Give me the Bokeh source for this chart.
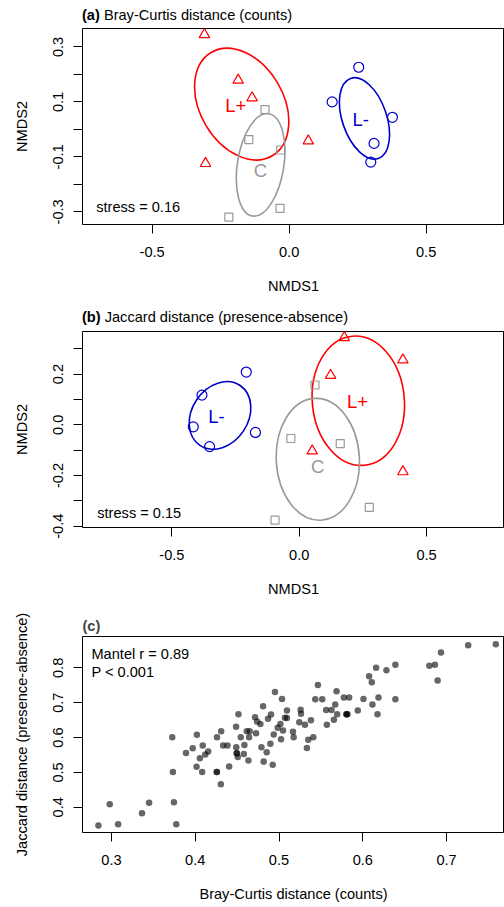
import math
from bokeh.plotting import figure
from bokeh.layouts import column
from bokeh.models import Label, FixedTicker, CustomJSTickFormatter, Range1d, Div
from bokeh.core.properties import value
from bokeh.embed import file_html
from bokeh.resources import INLINE

FONT = "Liberation Sans"
FS = "14.6px"
GFS = "18.5px"
RED = "#FF0000"
BLUE = "#0000CD"
GRAY = "#999999"
W = 504

# ---------------- Panel (a): NMDS on Bray-Curtis ----------------
a_tag, a_title = "(a)", "Bray-Curtis distance (counts)"
a_lplus_x = [-0.309, -0.186, -0.135, 0.070, -0.305]
a_lplus_y = [0.345, 0.179, 0.115, -0.042, -0.124]
a_lminus_x = [0.254, 0.157, 0.377, 0.310, 0.298]
a_lminus_y = [0.226, 0.100, 0.044, -0.051, -0.119]
a_c_x = [-0.088, -0.147, -0.031, -0.033, -0.220]
a_c_y = [0.072, -0.037, -0.075, -0.287, -0.319]
# ellipses: L+, C, L-
a_ell_x = [-0.173, -0.104, 0.275]
a_ell_y = [0.092, -0.129, 0.040]
a_ell_w = [0.438, 0.378, 0.309]
a_ell_h = [0.303, 0.169, 0.161]
a_ell_angle_deg = [120.6, 81.0, 109.1]
a_lab_text = ["L+", "C", "L-"]
a_lab_x = [-0.195, -0.105, 0.261]
a_lab_y = [0.088, -0.151, 0.036]
a_stress = "stress = 0.16"

# ---------------- Panel (b): NMDS on Jaccard ----------------
b_tag, b_title = "(b)", "Jaccard distance (presence-absence)"
b_lplus_x = [0.177, 0.407, 0.123, 0.051, 0.407]
b_lplus_y = [0.344, 0.256, 0.195, -0.103, -0.185]
b_lminus_x = [-0.208, -0.382, -0.416, -0.172, -0.352]
b_lminus_y = [0.208, 0.117, -0.008, -0.030, -0.086]
b_c_x = [0.062, -0.033, 0.161, 0.275, -0.095]
b_c_y = [0.157, -0.054, -0.074, -0.326, -0.376]
b_ell_x = [0.232, 0.073, -0.311]
b_ell_y = [0.095, -0.136, 0.037]
b_ell_w = [0.509, 0.479, 0.283]
b_ell_h = [0.363, 0.328, 0.222]
b_ell_angle_deg = [95.4, 93.0, 56.1]
b_lab_text = ["L+", "C", "L-"]
b_lab_x = [0.229, 0.072, -0.325]
b_lab_y = [0.092, -0.163, 0.032]
b_stress = "stress = 0.15"

# ---------------- Panel (c): pairwise distances ----------------
c_tag = "(c)"
c_stats = ["Mantel r = 0.89", "P < 0.001"]
bray_curtis = [0.2845, 0.298, 0.308, 0.3365, 0.345, 0.3726, 0.3734, 0.3746, 0.3774, 0.389,
               0.397, 0.402, 0.4016, 0.4056, 0.409, 0.4083, 0.412, 0.4155, 0.426, 0.431,
               0.4258, 0.4258, 0.4306, 0.4333, 0.4385, 0.4405, 0.4488, 0.4516, 0.449, 0.4496,
               0.4496, 0.4508, 0.4544, 0.458, 0.4587, 0.4615, 0.4635, 0.4643, 0.465, 0.4714,
               0.4726, 0.4738, 0.4778, 0.479, 0.481, 0.4817, 0.4853, 0.4869, 0.4897, 0.4905,
               0.4925, 0.4937, 0.4952, 0.4984, 0.5016, 0.5024, 0.5036, 0.5048, 0.5071, 0.5095,
               0.5095, 0.5167, 0.5175, 0.5258, 0.5262, 0.5242, 0.5310, 0.5333, 0.5349, 0.5381,
               0.5409, 0.5464, 0.5433, 0.5516, 0.5563, 0.5571, 0.5627, 0.5655, 0.5671, 0.5687,
               0.5694, 0.5774, 0.5806, 0.5806, 0.5837, 0.5817, 0.5940, 0.6008, 0.6075, 0.6107,
               0.6115, 0.6159, 0.6187, 0.6175, 0.6282, 0.6389, 0.6389, 0.6794, 0.6861, 0.6893,
               0.6933, 0.7258, 0.7587]
jaccard = [0.348, 0.409, 0.351, 0.383, 0.413, 0.601, 0.501, 0.4145, 0.351, 0.556,
           0.5695, 0.608, 0.516, 0.541, 0.577, 0.501, 0.5515, 0.560, 0.601, 0.618,
           0.501, 0.501, 0.466, 0.577, 0.577, 0.517, 0.631, 0.667, 0.572, 0.555,
           0.555, 0.544, 0.601, 0.553, 0.579, 0.618, 0.534, 0.601, 0.618, 0.658,
           0.6125, 0.646, 0.639, 0.572, 0.690, 0.531, 0.558, 0.654, 0.582, 0.666,
           0.522, 0.609, 0.731, 0.628, 0.639, 0.595, 0.711, 0.620, 0.657, 0.656,
           0.678, 0.617, 0.601, 0.680, 0.668, 0.644, 0.637, 0.570, 0.594, 0.650,
           0.601, 0.751, 0.710, 0.710, 0.679, 0.637, 0.679, 0.651, 0.695, 0.733,
           0.667, 0.715, 0.667, 0.667, 0.715, 0.667, 0.678, 0.711, 0.776, 0.759,
           0.695, 0.800, 0.715, 0.667, 0.793, 0.809, 0.710, 0.806, 0.809, 0.764,
           0.844, 0.865, 0.868]

# tick definitions
a_xticks = [-0.5, 0.0, 0.5]
a_xlabels = ["-0.5", "0.0", "0.5"]
a_yticks = [-0.3, -0.2, -0.1, 0.0, 0.1, 0.2, 0.3]
a_ylabels = ["-0.3", "", "-0.1", "", "0.1", "", "0.3"]
b_xticks = [-0.5, 0.0, 0.5]
b_xlabels = ["-0.5", "0.0", "0.5"]
b_yticks = [-0.4, -0.3, -0.2, -0.1, 0.0, 0.1, 0.2, 0.3]
b_ylabels = ["-0.4", "", "-0.2", "", "0.0", "", "0.2", ""]
c_xticks = [0.3, 0.4, 0.5, 0.6, 0.7]
c_xlabels = ["0.3", "0.4", "0.5", "0.6", "0.7"]
c_yticks = [0.4, 0.5, 0.6, 0.7, 0.8]
c_ylabels = ["0.4", "0.5", "0.6", "0.7", "0.8"]


def fmt(tvals, tlabs):
    return CustomJSTickFormatter(args=dict(tvals=tvals, tlabs=tlabs), code="""
        for (let i = 0; i < tvals.length; i++) {
            if (Math.abs(tvals[i] - tick) < 1e-9) { return tlabs[i]; }
        }
        return "";
    """)


def title_div(h, line_h, tag, title, indent):
    html = "<b>%s</b> %s" % (tag, title)
    return Div(text=html, width=W, height=h, margin=0,
               styles={"font-family": "'Liberation Sans', Arial, sans-serif",
                       "font-size": FS, "line-height": "%gpx" % line_h,
                       "text-indent": "%dpx" % indent, "white-space": "nowrap",
                       "color": "black", "overflow": "visible"})


def make_fig(xr, yr, top, bottom, left, xticks, xlabels, yticks, ylabels, xlab, ylab):
    p = figure(width=W, height=top + 196 + bottom, x_range=Range1d(*xr), y_range=Range1d(*yr),
               output_backend="svg", toolbar_location=None,
               min_border_top=top, min_border_bottom=bottom, min_border_left=left,
               min_border_right=0, margin=0)
    p.title.text = ""
    p.xgrid.visible = False
    p.ygrid.visible = False
    p.outline_line_color = "black"
    p.outline_line_width = 1
    p.outline_line_alpha = 1
    for ax, ticks, labels, lab in ((p.xaxis[0], xticks, xlabels, xlab), (p.yaxis[0], yticks, ylabels, ylab)):
        ax.ticker = FixedTicker(ticks=ticks, minor_ticks=[])
        ax.formatter = fmt(ticks, labels)
        ax.axis_line_color = None
        ax.major_tick_in = 0
        ax.major_tick_out = 9
        ax.minor_tick_in = 0
        ax.minor_tick_out = 0
        ax.major_tick_line_color = "black"
        ax.major_label_text_font = FONT
        ax.major_label_text_font_size = FS
        ax.major_label_text_color = "black"
        ax.axis_label = lab
        ax.axis_label_text_font = FONT
        ax.axis_label_text_font_size = FS
        ax.axis_label_text_font_style = "normal"
        ax.axis_label_text_color = "black"
    p.xaxis[0].major_label_standoff = 13
    p.xaxis[0].axis_label_standoff = 18
    p.yaxis[0].major_label_orientation = "vertical"
    p.yaxis[0].major_label_standoff = 10
    p.yaxis[0].axis_label_standoff = 21
    return p


def add_text(p, x, y, text):
    p.add_layout(Label(x=x, y=y, text=text, text_font=FONT, text_font_size=FS,
                       text_color="black", text_align="left", text_baseline="middle"))


def nmds_panel(p, lp_x, lp_y, lm_x, lm_y, c_x, c_y, ex, ey, ew, eh, ea, lt, lx, ly):
    cols = [RED, GRAY, BLUE]
    p.ellipse(x=ex, y=ey, width=ew, height=eh, angle=[math.radians(a) for a in ea],
              fill_color=None, line_color=cols, line_width=1.6)
    p.scatter(lp_x, lp_y, marker="triangle", size=10.5, fill_color=None, line_color=RED, line_width=1.2)
    p.scatter(lm_x, lm_y, marker="circle", size=10, fill_color=None, line_color=BLUE, line_width=1.2)
    p.scatter(c_x, c_y, marker="square", size=8, fill_color=None, line_color=GRAY, line_width=1.2)
    p.text(x=lx, y=ly, text=lt, text_color=cols, text_font=value(FONT),
           text_font_size=value(GFS), text_align="center", text_baseline="middle")


# ---- panel (a)
da = title_div(26, 30, a_tag, a_title, 82)
pa = make_fig((-0.754, 0.786), (-0.346, 0.367), 2, 76, 82,
              a_xticks, a_xlabels, a_yticks, a_ylabels, "NMDS1", "NMDS2")
nmds_panel(pa, a_lplus_x, a_lplus_y, a_lminus_x, a_lminus_y, a_c_x, a_c_y,
           a_ell_x, a_ell_y, a_ell_w, a_ell_h, a_ell_angle_deg, a_lab_text, a_lab_x, a_lab_y)
add_text(pa, -0.704, -0.284, a_stress)

# ---- panel (b)
db = title_div(29, 34.6, b_tag, b_title, 82)
pb = make_fig((-0.851, 0.806), (-0.405, 0.368), 2, 83, 82,
              b_xticks, b_xlabels, b_yticks, b_ylabels, "NMDS1", "NMDS2")
nmds_panel(pb, b_lplus_x, b_lplus_y, b_lminus_x, b_lminus_y, b_c_x, b_c_y,
           b_ell_x, b_ell_y, b_ell_w, b_ell_h, b_ell_angle_deg, b_lab_text, b_lab_x, b_lab_y)
add_text(pb, -0.793, -0.348, b_stress)

# ---- panel (c)
pc = make_fig((0.2655, 0.7691), (0.3276, 0.890), 26, 75, 81,
              c_xticks, c_xlabels, c_yticks, c_ylabels,
              "Bray-Curtis distance (counts)", "Jaccard distance (presence-absence)")
pc.title.text = c_tag
pc.title.text_font = FONT
pc.title.text_font_size = FS
pc.title.text_font_style = "bold"
pc.title.align = "left"
pc.title.standoff = 6
pc.title.offset = 0
pc.scatter(bray_curtis, jaccard, marker="circle", size=6.5, fill_color="black",
           fill_alpha=0.6, line_color=None)
add_text(pc, 0.2762, 0.840, c_stats[0])
add_text(pc, 0.2762, 0.7876, c_stats[1])

layout = column(da, pa, db, pb, pc, spacing=0, width=W)
open("out.html", "w").write(file_html(layout, INLINE, title="NMDS"))
